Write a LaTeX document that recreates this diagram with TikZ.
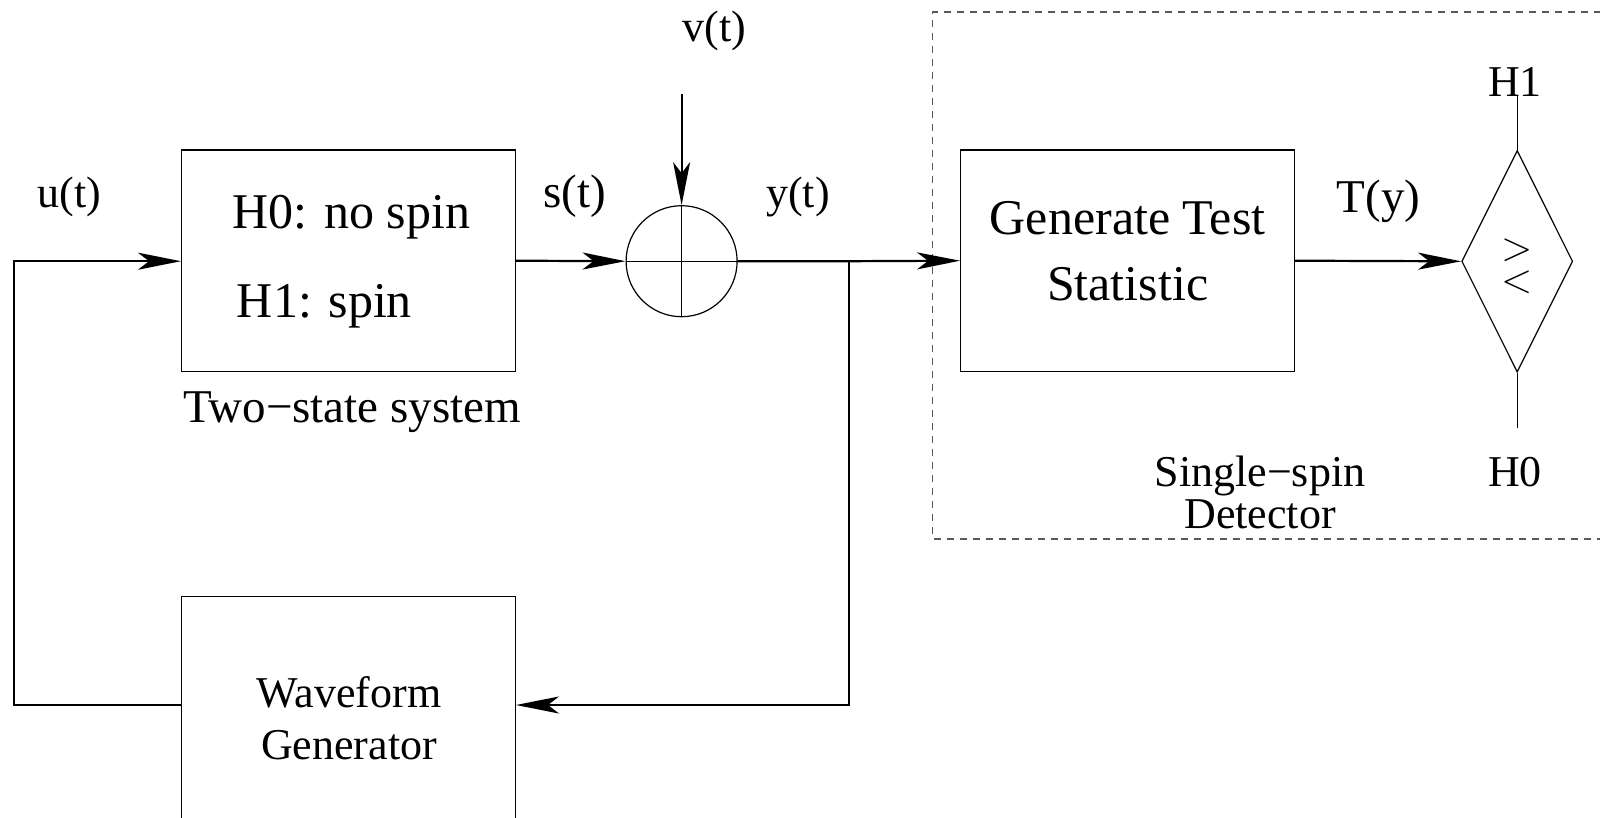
\documentclass[tikz,border=0pt]{standalone}
\usepackage{fontspec}
\setmainfont{Liberation Serif}
\newfontfamily\relfont{Latin Modern Roman}
\usetikzlibrary{arrows.meta,shapes.geometric}

\begin{document}
\begin{tikzpicture}[x=1pt,y=-1pt,
  block/.style={draw, line width=1.2pt, inner sep=0pt, minimum width=333.7pt, minimum height=221.4pt},
  wire/.style={line width=2.2pt},
  flow/.style={wire, -{Stealth[length=43pt, width=17pt, inset=11pt]}},
  thin/.style={line width=1.2pt},
  big/.style={inner sep=0pt, font=\fontsize{50}{60}\selectfont},
  mid/.style={inner sep=0pt, font=\fontsize{47}{56}\selectfont},
  small/.style={inner sep=0pt, font=\fontsize{44}{52}\selectfont},
  relsym/.style={inner sep=0pt, align=center,
                 font=\relfont\fontsize{41}{31.5}\selectfont},
  frame/.style={draw=black!65, line width=1.5pt, dash pattern=on 7pt off 6pt}
]
\useasboundingbox (0,0) rectangle (1600,817);
\clip (0,0) rectangle (1600,817);

% blocks
\node[block] (sys) at (348.5,260.7) {};
\node[block] (gts) at (1127.5,260.7) {};
\node[block, minimum height=320pt, anchor=north] (wf) at (348.5,596) {};
\node[draw, circle, thin, minimum size=111pt, inner sep=0pt] (sum) at (681.6,261.2) {};
\draw[thin] (sum.north) -- (sum.south) (sum.west) -- (sum.east);
\node[draw, diamond, thin, inner sep=0pt, aspect=0.5,
      minimum width=111pt, minimum height=221.6pt] (dec) at (1517.2,261.3) {};

% detector frame
\draw[frame] (1640,12.2) -- (932.6,12.2) -- (932.6,538.8) -- (1640,538.8);

% texts inside blocks
\node[big, anchor=base west] (h0) at (232.6,228.6) {H0: no spin};
\node[big, anchor=base west] (h1) at (236.7,317) {H1: spin};
\node[big, anchor=base] (gt1) at (1127.6,234.7) {Generate Test};
\node[big, anchor=base] (gt2) at (1127.6,300) {Statistic};
\node[small, anchor=base] (wf1) at (349,707) {Waveform};
\node[small, anchor=base] (wf2) at (349,759) {Generator};
\node[relsym] (cmp) at (1517.2,266.3) {>\\<};

% signal labels
\node[small, anchor=base] (lu) at (69.4,207) {u(t)};
\node[mid, anchor=base] (ls) at (574.5,207) {s(t)};
\node[small, anchor=base] (ly) at (798,207) {y(t)};
\node[small, anchor=base] (lv) at (714.3,41) {v(t)};
\node[mid, anchor=base] (lT) at (1378.6,212) {T(y)};
\node[small, anchor=base] (lH1) at (1515,96) {H1};
\node[small, anchor=base] (lH0) at (1515,486) {H0};
\node[mid, anchor=base] (lsys) at (352,422.5) {Two−state system};
\node[small, anchor=base] (ld1) at (1260,486) {Single−spin};
\node[small, anchor=base] (ld2) at (1260,528.6) {Detector};

% connectors
\coordinate (vin) at (681.6,94);
\coordinate (jn) at (849,261.2);
\coordinate (jd) at (849,705);
\coordinate (lb) at (14.3,705);
\coordinate (lt) at (14.3,261.2);
\coordinate (h1end) at (1517.2,95);
\coordinate (h0end) at (1517.2,428);

\draw[flow] (sys.east) -- (sum.west);
\draw[flow] (vin) -- (sum.north);
\draw[flow] (sum.east) -- (jn) -- (gts.west);
\draw[flow] (jn) -- (jd) -- (wf.east |- jd);
\draw[flow] (wf.west |- lb) -- (lb) -- (lt) -- (sys.west |- lt);
\draw[flow] (gts.east) -- (dec.west);
\draw[thin] (dec.north) -- (h1end);
\draw[thin] (dec.south) -- (h0end);
\end{tikzpicture}
\end{document}
